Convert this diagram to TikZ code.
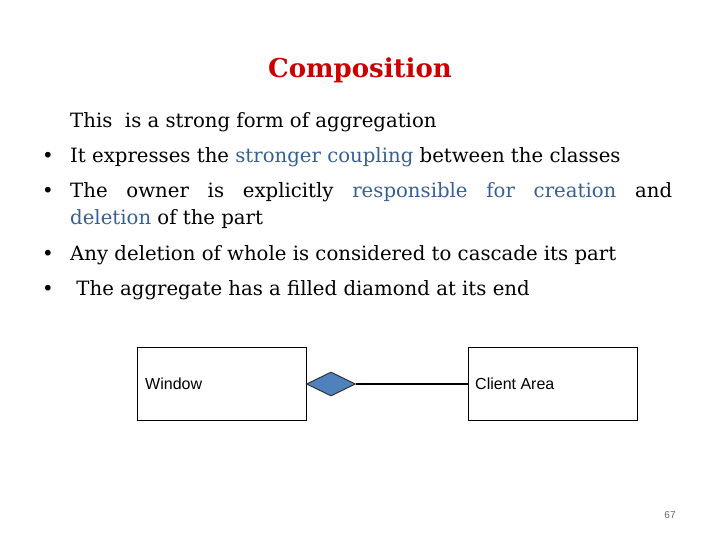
\documentclass[tikz,border=0pt]{standalone}
\usepackage{fontspec}
\setmainfont{DejaVu Serif}
\usetikzlibrary{shapes.geometric}
\definecolor{tred}{RGB}{204,0,0}
\definecolor{tblue}{RGB}{55,96,146}
\begin{document}
\begin{tikzpicture}[x=1pt,y=-1pt,
  body/.style={anchor=base west,inner sep=0,font=\fontsize{19.7}{28}\selectfont},
  bul/.style={anchor=base,inner sep=0,font=\fontsize{19.7}{28}\selectfont},
  cls/.style={draw,line width=1.2pt,minimum width=169pt,minimum height=73pt,anchor=north west},
  lbl/.style={anchor=west,inner sep=0,font=\fontspec{Liberation Sans}\fontsize{16}{16}\selectfont}]
\useasboundingbox (0,0) rectangle (720,540);
\node[anchor=base,inner sep=0,text=tred,font=\fontsize{26}{26}\bfseries\selectfont] (title) at (360,78) {Composition};
\node[body] (l1) at (70,128) {This\ \ is a strong form of aggregation};
\node[bul] (b2) at (48,163) {•};
\node[body] (l2) at (70,163) {It expresses the \textcolor{tblue}{stronger coupling} between the classes};
\node[bul] (b3) at (48,197) {•};
\node[body] (l3) at (70,197) {\makebox[602pt][s]{The owner is explicitly \textcolor{tblue}{responsible for creation} and}};
\node[body] (l3b) at (70,225) {\textcolor{tblue}{deletion} of the part};
\node[bul] (b4) at (48,260) {•};
\node[body] (l4) at (70,260) {Any deletion of whole is considered to cascade its part};
\node[bul] (b5) at (48,295) {•};
\node[body] (l5) at (70,295) {\ The aggregate has a filled diamond at its end};
\node[cls] (w) at (137,347) {};
\node[cls] (c) at (468,347) {};
\node[lbl] (wl) at (145,384) {Window};
\node[lbl] (cl) at (475,384) {Client Area};
\node[diamond,draw=black!80,fill={rgb,255:red,79;green,129;blue,189},line width=1pt,minimum width=49pt,minimum height=24pt,inner sep=0,anchor=west] (d) at (306,384) {};
\draw[line width=1.2pt] (d.east) -- (c.west|-d.east);
\node[anchor=base,inner sep=0,text=black!60,font=\fontspec{Liberation Sans}\fontsize{10}{10}\selectfont] (pg) at (670,518) {67};
\end{tikzpicture}
\end{document}
